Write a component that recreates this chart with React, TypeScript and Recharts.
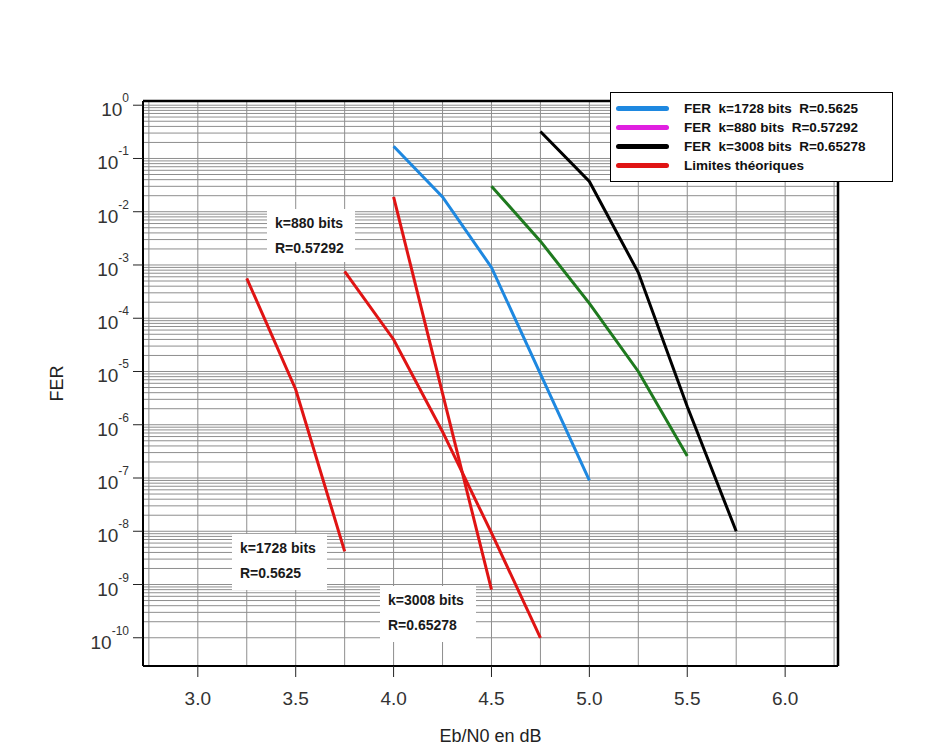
import React from "react";
import { Legend, Line, LineChart, ReferenceLine, XAxis, YAxis } from "recharts";

// Eb/N0 (dB) values and FER per curve
const blueX = [4.0, 4.25, 4.5, 4.75, 5.0];
const blueFer = [0.17, 0.019, 9e-4, 9e-6, 9e-8];

const greenX = [4.5, 4.75, 5.0, 5.25, 5.5];
const greenFer = [0.03, 2.8e-3, 1.9e-4, 1e-5, 2.6e-7];

const blackX = [4.75, 5.0, 5.25, 5.5, 5.75];
const blackFer = [0.32, 0.037, 7.2e-4, 2.2e-6, 1e-8];

// theoretical limits
const limit1728X = [3.25, 3.5, 3.75];
const limit1728Fer = [5.6e-4, 4.6e-6, 4.2e-9];

const limit880X = [3.75, 4.0, 4.25, 4.5, 4.75];
const limit880Fer = [7.6e-4, 4e-5, 7.4e-7, 9.3e-9, 1e-10];

const limit3008X = [4.0, 4.25, 4.5];
const limit3008Fer = [1.9e-2, 3.9e-6, 8e-10];

const xTicks = [3.0, 3.5, 4.0, 4.5, 5.0, 5.5, 6.0];
const xGridTicks = [2.75, 3.0, 3.25, 3.5, 3.75, 4.0, 4.25, 4.5, 4.75, 5.0, 5.25, 5.5, 5.75, 6.0, 6.25];
const yExponents = [-10, -9, -8, -7, -6, -5, -4, -3, -2, -1, 0];
const yTicks = yExponents.map((e) => Math.pow(10, e));
const mantissas = [1, 2, 3, 4, 5, 6, 7, 8, 9];
const yGridTicks = yExponents.flatMap((e) => mantissas.map((m) => m * Math.pow(10, e))).filter((v) => v <= 1);

const xDomain = [2.72, 6.27];
const yDomain = [2.95e-11, 1.2];

const legendItems = [
  { label: "FER  k=1728 bits  R=0.5625", color: "#1e88e0" },
  { label: "FER  k=880 bits  R=0.57292", color: "#e020e0" },
  { label: "FER  k=3008 bits  R=0.65278", color: "#000000" },
  { label: "Limites théoriques", color: "#e01414" },
];

const toPoints = (xs: number[], ys: number[]) => xs.map((x, i) => ({ x, y: ys[i] }));

const series = [
  { name: "k1728", data: toPoints(blueX, blueFer), color: "#1e88e0" },
  { name: "k880", data: toPoints(greenX, greenFer), color: "#1f7a1f" },
  { name: "k3008", data: toPoints(blackX, blackFer), color: "#000000" },
  { name: "lim1728", data: toPoints(limit1728X, limit1728Fer), color: "#e01414" },
  { name: "lim880", data: toPoints(limit880X, limit880Fer), color: "#e01414" },
  { name: "lim3008", data: toPoints(limit3008X, limit3008Fer), color: "#e01414" },
];

const FONT = "'Liberation Sans', Arial, sans-serif";
const GRID = "#8e8e8e";

const PowerTick = (props: any) => {
  const { x, y, payload } = props;
  const exp = Math.round(Math.log10(payload.value));
  return (
    <text x={x - 2} y={y + 11} textAnchor="end" fill="#333" fontFamily={FONT} fontSize={19}>
      <tspan>10</tspan>
      <tspan dy={-14} fontSize={12}>{exp === 0 ? "0" : `-${Math.abs(exp)}`}</tspan>
    </text>
  );
};

const renderLegend = () => (
  <div
    style={{
      background: "#fff",
      border: "1px solid #000",
      boxSizing: "border-box",
      padding: "6px 0 6px 5px",
      fontFamily: FONT,
    }}
  >
    {legendItems.map((item) => (
      <div key={item.label} style={{ display: "flex", alignItems: "center", height: 19 }}>
        <div style={{ width: 53, height: 5, borderRadius: 3, background: item.color, marginRight: 15 }} />
        <span style={{ fontSize: 13.5, fontWeight: "bold", color: "#111", whiteSpace: "pre" }}>{item.label}</span>
      </div>
    ))}
  </div>
);

const boxStyle: React.CSSProperties = {
  position: "absolute",
  background: "#fff",
  fontFamily: FONT,
  fontWeight: "bold",
  fontSize: 14,
  color: "#1a1a1a",
  lineHeight: "25px",
  boxSizing: "border-box",
  padding: "2px 8px",
};

export default function App() {
  return (
    <div style={{ position: "absolute", left: 0, top: 0, width: 937, height: 750, background: "#fff" }}>
      <LineChart width={937} height={750} margin={{ top: 89, right: 97, bottom: 34, left: 83 }}>
        <XAxis
          dataKey="x"
          type="number"
          domain={xDomain}
          ticks={xTicks}
          allowDataOverflow
          height={50}
          tickSize={11}
          tickMargin={15}
          tickFormatter={(v: number) => v.toFixed(1)}
          tick={{ fill: "#333", fontSize: 19, fontFamily: FONT }}
          axisLine={{ stroke: "#000", strokeWidth: 2 }}
          tickLine={{ stroke: "#222" }}
          label={{
            content: (p: any) => (
              <text
                x={p.viewBox.x + p.viewBox.width / 2}
                y={p.viewBox.y + 76}
                textAnchor="middle"
                fontFamily={FONT}
                fontSize={18}
                fill="#222"
              >
                Eb/N0 en dB
              </text>
            ),
          }}
        />
        <XAxis
          xAxisId="top"
          orientation="top"
          type="number"
          domain={xDomain}
          ticks={xTicks}
          allowDataOverflow
          height={12}
          tick={() => <g />}
          tickSize={11}
          axisLine={{ stroke: "#000", strokeWidth: 2.5 }}
          tickLine={{ stroke: "#222" }}
        />
        <YAxis
          type="number"
          scale="log"
          domain={yDomain}
          ticks={yTicks}
          allowDataOverflow
          width={60}
          tickSize={10}
          tick={<PowerTick />}
          axisLine={{ stroke: "#000", strokeWidth: 2 }}
          tickLine={{ stroke: "#222" }}
          label={{
            content: (p: any) => {
              const cx = p.viewBox.x - 26;
              const cy = p.viewBox.y + p.viewBox.height / 2;
              return (
                <text
                  x={cx}
                  y={cy}
                  transform={`rotate(-90 ${cx} ${cy})`}
                  textAnchor="middle"
                  dominantBaseline="central"
                  fontFamily={FONT}
                  fontSize={18}
                  fill="#222"
                >
                  FER
                </text>
              );
            },
          }}
        />
        <YAxis
          yAxisId="right"
          orientation="right"
          type="number"
          domain={[0, 1]}
          width={2}
          tick={false}
          tickLine={false}
          axisLine={{ stroke: "#000", strokeWidth: 2.5 }}
        />
        {/* log grid: one line per mantissa, plus quarter-dB verticals */}
        {yGridTicks.map((v) => (
          <ReferenceLine key={`h${v}`} y={v} stroke={GRID} strokeWidth={1} />
        ))}
        {xGridTicks.map((v) => (
          <ReferenceLine key={`v${v}`} x={v} stroke={GRID} strokeWidth={1} />
        ))}
        {series.map((s) => (
          <Line
            key={s.name}
            data={s.data}
            dataKey="y"
            type="linear"
            stroke={s.color}
            strokeWidth={3}
            dot={false}
            activeDot={false}
            isAnimationActive={false}
          />
        ))}
        <Legend
          layout="vertical"
          align="center"
          verticalAlign="middle"
          content={renderLegend}
          wrapperStyle={{ left: 610, top: 92, width: 283, height: 94 }}
        />
      </LineChart>
      <div style={{ ...boxStyle, left: 267, top: 209, width: 88, height: 53 }}>
        k=880 bits
        <br />
        R=0.57292
      </div>
      <div style={{ ...boxStyle, left: 232, top: 534, width: 95, height: 56 }}>
        k=1728 bits
        <br />
        R=0.5625
      </div>
      <div style={{ ...boxStyle, left: 380, top: 586, width: 96, height: 56 }}>
        k=3008 bits
        <br />
        R=0.65278
      </div>
    </div>
  );
}
